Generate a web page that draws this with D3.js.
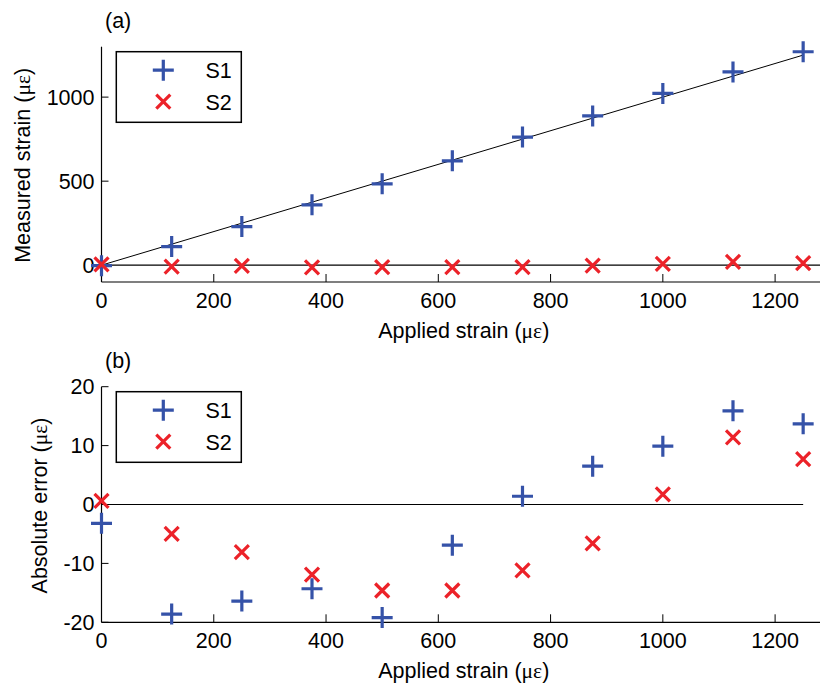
<!DOCTYPE html>
<html>
<head>
<meta charset="utf-8">
<script src="https://cdn.jsdelivr.net/npm/d3@7"></script>
<style>
  html, body { margin: 0; padding: 0; background: #fff; }
  svg { display: block; }
  text { font-family: "Liberation Sans", Arial, Helvetica, sans-serif; fill: #000; }
</style>
</head>
<body>
<svg id="chart" width="820" height="685"></svg>
<script>
// ---- data ----
const applied = [0, 125, 250, 375, 500, 625, 750, 875, 1000, 1125, 1250];
const measuredS1 = [-3, 111, 230, 359, 484, 621, 762, 888, 1022, 1150, 1270];
const measuredS2 = [5, -8, -4, -13, -11, -11, -11, -2, 8, 20, 12];
const errorS1 = [-3.2, -18.6, -16.4, -14.3, -19.2, -6.9, 1.4, 6.5, 9.9, 15.9, 13.7];
const errorS2 = [0.6, -5.0, -8.1, -11.9, -14.6, -14.6, -11.2, -6.6, 1.7, 11.4, 7.7];
const fitLine = [0, 1250];
const xTicks = [0, 200, 400, 600, 800, 1000, 1200];
const yTicksA = [0, 500, 1000];
const yTicksB = [-20, -10, 0, 10, 20];
const seriesNames = ["S1", "S2"];
const colors = { S1: "#3552a8", S2: "#ec2229" };

const svg = d3.select("#chart");
const FS = 21.5;

const x = d3.scaleLinear().domain([0, 1280]).range([101.5, 820]);

function panel(cfg) {
  const g = svg.append("g");
  const y = cfg.y;
  const [y0, y1] = y.range();
  // left axis
  g.append("line").attr("x1", x(0)).attr("x2", x(0)).attr("y1", y0).attr("y2", y1)
    .attr("stroke", "#000").attr("stroke-width", 1.2);
  // bottom axis
  g.append("line").attr("x1", x(0)).attr("x2", x(1280)).attr("y1", y0).attr("y2", y0)
    .attr("stroke", "#000").attr("stroke-width", 1.2);
  // x ticks (inward)
  xTicks.forEach(t => {
    if (t > 0) g.append("line").attr("x1", x(t)).attr("x2", x(t)).attr("y1", y0).attr("y2", y0 - 8)
      .attr("stroke", "#000").attr("stroke-width", 1);
    g.append("text").attr("x", x(t)).attr("y", y0 + 25.5).attr("text-anchor", "middle")
      .attr("font-size", FS).text(t);
  });
  // y ticks
  cfg.yTicks.forEach(t => {
    g.append("line").attr("x1", x(0)).attr("x2", x(0) + 7).attr("y1", y(t)).attr("y2", y(t))
      .attr("stroke", "#000").attr("stroke-width", 1);
    g.append("text").attr("x", 94.5).attr("y", y(t)).attr("dy", "0.36em").attr("text-anchor", "end")
      .attr("font-size", FS).text(t);
  });
  // zero line
  g.append("line").attr("x1", x(0)).attr("x2", x(cfg.zeroEnd)).attr("y1", y(0)).attr("y2", y(0))
    .attr("stroke", "#000").attr("stroke-width", 1.2);
  // fit line
  if (cfg.fit) {
    g.append("line").attr("x1", x(fitLine[0])).attr("x2", x(fitLine[1]))
      .attr("y1", y(fitLine[0])).attr("y2", y(fitLine[1]))
      .attr("stroke", "#000").attr("stroke-width", 1);
  }
  // markers
  const plus = (sel, cx, cy) => {
    sel.append("path").attr("d", `M${cx - 10.5},${cy}H${cx + 10.5}M${cx},${cy - 10.5}V${cy + 10.5}`)
      .attr("stroke", colors.S1).attr("stroke-width", 3.2).attr("fill", "none");
  };
  const cross = (sel, cx, cy) => {
    const r = 7;
    sel.append("path").attr("d", `M${cx - r},${cy - r}L${cx + r},${cy + r}M${cx - r},${cy + r}L${cx + r},${cy - r}`)
      .attr("stroke", colors.S2).attr("stroke-width", 3.2).attr("fill", "none");
  };
  applied.forEach((a, i) => plus(g, x(a), y(cfg.s1[i])));
  applied.forEach((a, i) => cross(g, x(a), y(cfg.s2[i])));
  // panel label
  g.append("text").attr("x", 105).attr("y", cfg.tagY).attr("font-size", FS).text(cfg.tag);
  // axis labels
  const xl = g.append("text").attr("x", (x(0) + x(1280)) / 2 + 3).attr("y", y0 + 56)
    .attr("text-anchor", "middle").attr("font-size", FS);
  xl.append("tspan").text("Applied strain (");
  xl.append("tspan").attr("font-family", "Liberation Serif, Times New Roman, serif").text("με");
  xl.append("tspan").text(")");
  const yl = g.append("text").attr("transform", `translate(${cfg.ylabX},${(y0 + y1) / 2 + 1}) rotate(-90)`)
    .attr("text-anchor", "middle").attr("font-size", FS);
  yl.append("tspan").text(cfg.ylabel + " (");
  yl.append("tspan").attr("font-family", "Liberation Serif, Times New Roman, serif").text("με");
  yl.append("tspan").text(")");
  // legend
  const ly = cfg.legendTop;
  g.append("rect").attr("x", 116.3).attr("y", ly).attr("width", 125).attr("height", 70.6)
    .attr("fill", "#fff").attr("stroke", "#000").attr("stroke-width", 1.5);
  plus(g, 163.3, ly + 18.5);
  cross(g, 163.3, ly + 50);
  seriesNames.forEach((n, i) => {
    g.append("text").attr("x", 205.5).attr("y", ly + 26.5 + i * 31.8).attr("font-size", FS).text(n);
  });
}

panel({
  y: d3.scaleLinear().domain([-100, 1300]).range([282, 46.7]),
  yTicks: yTicksA, s1: measuredS1, s2: measuredS2, fit: true, zeroEnd: 1280,
  tag: "(a)", tagY: 28, ylabel: "Measured strain", ylabX: 30, legendTop: 51.7
});
panel({
  y: d3.scaleLinear().domain([-20, 20]).range([622.3, 386.7]),
  yTicks: yTicksB, s1: errorS1, s2: errorS2, fit: false, zeroEnd: 1250,
  tag: "(b)", tagY: 368, ylabel: "Absolute error", ylabX: 47, legendTop: 391.7
});
</script>
</body>
</html>
